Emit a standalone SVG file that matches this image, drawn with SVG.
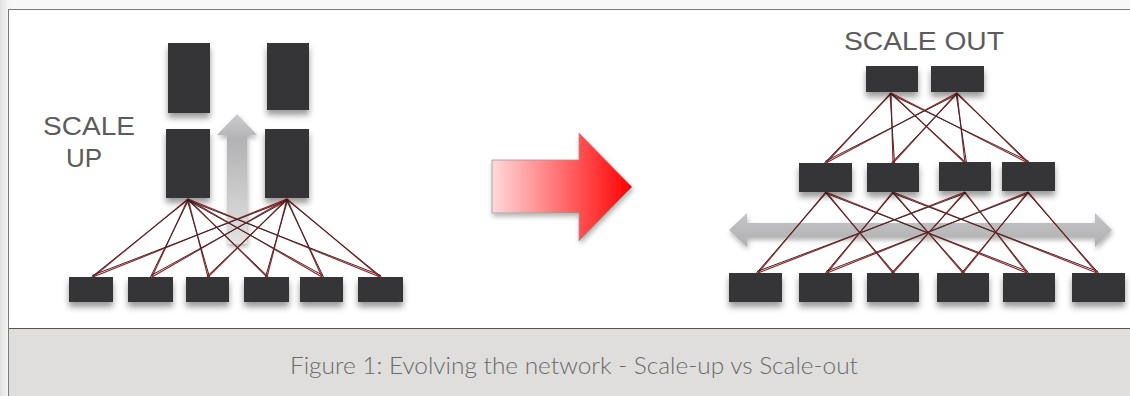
<svg xmlns="http://www.w3.org/2000/svg" width="1130" height="396" viewBox="0 0 1130 396">
  <defs>
    <style>
      .box { fill: #343437; }
      .lbl { font-family: "Liberation Sans", Arial, sans-serif; fill: #5c5c5c; }
      .cap { font-family: Lato, "Liberation Sans", sans-serif; font-weight: 300; fill: #6a6a6a; font-size: 23.5px; }
      .r { stroke: #a81d20; stroke-width: 1.2; fill: none; }
      .k { stroke: #2f2f31; stroke-width: 1; fill: none; }
    </style>
    <filter id="sh" x="-30%" y="-30%" width="160%" height="180%">
      <feDropShadow dx="0" dy="5" stdDeviation="3" flood-color="#000" flood-opacity="0.4"/>
    </filter>
    <filter id="sh2" x="-20%" y="-30%" width="140%" height="170%">
      <feDropShadow dx="1" dy="3" stdDeviation="2.5" flood-color="#000" flood-opacity="0.3"/>
    </filter>
    <linearGradient id="redg" x1="492" y1="0" x2="632" y2="0" gradientUnits="userSpaceOnUse">
      <stop offset="0" stop-color="#ffd9dc"/>
      <stop offset="1" stop-color="#ff0000"/>
    </linearGradient>
    <linearGradient id="upg" x1="0" y1="114" x2="0" y2="244" gradientUnits="userSpaceOnUse">
      <stop offset="0" stop-color="#cdcdcf"/>
      <stop offset="0.2" stop-color="#b2b2b4"/>
      <stop offset="1" stop-color="#e2e2e2"/>
    </linearGradient>
    <linearGradient id="hg" x1="0" y1="213" x2="0" y2="247" gradientUnits="userSpaceOnUse">
      <stop offset="0" stop-color="#c4c4c6"/>
      <stop offset="1" stop-color="#b0b0b3"/>
    </linearGradient>
    <linearGradient id="bgl" x1="0" y1="0" x2="9" y2="0" gradientUnits="userSpaceOnUse">
      <stop offset="0" stop-color="#e2e2e2"/>
      <stop offset="1" stop-color="#f6f6f6"/>
    </linearGradient>
  </defs>

  <!-- frame -->
  <rect x="0" y="0" width="1130" height="396" fill="#f7f7f7"/>
  <rect x="0" y="0" width="9" height="396" fill="url(#bgl)"/>
  <rect x="8.5" y="9.5" width="1130" height="400" fill="#ffffff" stroke="#7a7a7a" stroke-width="1"/>
  <rect x="9" y="328" width="1121" height="68" fill="#dfdedc"/>
  <line x1="9" y1="328.5" x2="1130" y2="328.5" stroke="#555" stroke-width="1"/>
  <text class="cap" x="574" y="374" text-anchor="middle" textLength="568" lengthAdjust="spacingAndGlyphs">Figure 1: Evolving the network - Scale-up vs Scale-out</text>

  <!-- background arrows -->
  <g id="up-arrow" filter="url(#sh2)">
    <polygon points="237,114 257,135 247,135 247,244 227,244 227,135 217,135" fill="url(#upg)"/>
  </g>
  <g id="out-arrow" filter="url(#sh2)">
    <polygon points="729,230 747,213 747,223 1095,223 1095,213 1112,230 1095,247 1095,237 747,237 747,247" fill="url(#hg)"/>
  </g>
  <g id="evolve-arrow" filter="url(#sh2)">
    <polygon points="492,160 579,160 579,133 632,187 579,241 579,213 492,213" fill="url(#redg)" stroke="#9a9a9a" stroke-width="0.8"/>
  </g>

  <!-- connectors -->
  <g id="connectors">
    <!-- scale up: 2 x 6 -->
    <g>
      <line class="r" x1="188" y1="199" x2="93" y2="277"/><line class="k" x1="189" y1="199" x2="91.5" y2="277"/>
      <line class="r" x1="188" y1="199" x2="152" y2="277"/><line class="k" x1="189" y1="199" x2="150.5" y2="277"/>
      <line class="r" x1="188" y1="199" x2="208" y2="277"/><line class="k" x1="187" y1="199" x2="209.5" y2="277"/>
      <line class="r" x1="188" y1="199" x2="267" y2="277"/><line class="k" x1="187" y1="199" x2="268.5" y2="277"/>
      <line class="r" x1="188" y1="199" x2="322" y2="277"/><line class="k" x1="187" y1="200" x2="323" y2="275.5"/>
      <line class="r" x1="188" y1="199" x2="380" y2="277"/><line class="k" x1="187" y1="200" x2="381" y2="275.5"/>
      <line class="r" x1="287" y1="199" x2="93" y2="277"/><line class="k" x1="288" y1="200" x2="92" y2="275.5"/>
      <line class="r" x1="287" y1="199" x2="152" y2="277"/><line class="k" x1="288" y1="200" x2="151" y2="275.5"/>
      <line class="r" x1="287" y1="199" x2="208" y2="277"/><line class="k" x1="288" y1="199" x2="206.5" y2="277"/>
      <line class="r" x1="287" y1="199" x2="267" y2="277"/><line class="k" x1="288" y1="199" x2="265.5" y2="277"/>
      <line class="r" x1="287" y1="199" x2="322" y2="277"/><line class="k" x1="286" y1="199" x2="323.5" y2="277"/>
      <line class="r" x1="287" y1="199" x2="380" y2="277"/><line class="k" x1="286" y1="199" x2="381.5" y2="277"/>
    </g>
    <!-- scale out: top to middle -->
    <g>
      <line class="r" x1="891" y1="93" x2="826" y2="163"/><line class="k" x1="892" y1="93" x2="824.5" y2="163"/>
      <line class="r" x1="891" y1="93" x2="893" y2="163"/><line class="k" x1="890" y1="93" x2="894.5" y2="163"/>
      <line class="r" x1="891" y1="93" x2="965" y2="163"/><line class="k" x1="890" y1="93" x2="966.5" y2="163"/>
      <line class="r" x1="891" y1="93" x2="1028" y2="163"/><line class="k" x1="890" y1="94" x2="1029" y2="161.5"/>
      <line class="r" x1="957" y1="93" x2="826" y2="163"/><line class="k" x1="958" y1="94" x2="825" y2="161.5"/>
      <line class="r" x1="957" y1="93" x2="893" y2="163"/><line class="k" x1="958" y1="93" x2="891.5" y2="163"/>
      <line class="r" x1="957" y1="93" x2="965" y2="163"/><line class="k" x1="956" y1="93" x2="966.5" y2="163"/>
      <line class="r" x1="957" y1="93" x2="1028" y2="163"/><line class="k" x1="956" y1="93" x2="1029.5" y2="163"/>
    </g>
    <!-- scale out: middle to bottom -->
    <g>
      <line class="r" x1="826" y1="192" x2="758" y2="273"/><line class="k" x1="827" y1="192" x2="756.5" y2="273"/>
      <line class="r" x1="826" y1="192" x2="893" y2="273"/><line class="k" x1="825" y1="192" x2="894.5" y2="273"/>
      <line class="r" x1="826" y1="192" x2="1027" y2="273"/><line class="k" x1="825" y1="193" x2="1028" y2="271.5"/>
      <line class="r" x1="893" y1="192" x2="827" y2="273"/><line class="k" x1="894" y1="192" x2="825.5" y2="273"/>
      <line class="r" x1="893" y1="192" x2="963" y2="273"/><line class="k" x1="892" y1="192" x2="964.5" y2="273"/>
      <line class="r" x1="893" y1="192" x2="1097" y2="273"/><line class="k" x1="892" y1="193" x2="1098" y2="271.5"/>
      <line class="r" x1="965" y1="192" x2="758" y2="273"/><line class="k" x1="966" y1="193" x2="757" y2="271.5"/>
      <line class="r" x1="965" y1="192" x2="893" y2="273"/><line class="k" x1="966" y1="192" x2="891.5" y2="273"/>
      <line class="r" x1="965" y1="192" x2="1027" y2="273"/><line class="k" x1="964" y1="192" x2="1028.5" y2="273"/>
      <line class="r" x1="1028" y1="192" x2="827" y2="273"/><line class="k" x1="1029" y1="193" x2="826" y2="271.5"/>
      <line class="r" x1="1028" y1="192" x2="963" y2="273"/><line class="k" x1="1029" y1="192" x2="961.5" y2="273"/>
      <line class="r" x1="1028" y1="192" x2="1097" y2="273"/><line class="k" x1="1027" y1="192" x2="1098.5" y2="273"/>
    </g>
  </g>

  <!-- scale up nodes -->
  <g filter="url(#sh)">
    <g id="up-top-1"><rect class="box" x="168" y="43" width="42" height="70"/></g>
    <g id="up-top-2"><rect class="box" x="267" y="43" width="42" height="67"/></g>
    <g id="up-mid-1"><rect class="box" x="166" y="129" width="44" height="69"/></g>
    <g id="up-mid-2"><rect class="box" x="265" y="129" width="44" height="69"/></g>
    <g id="up-leaf-1"><rect class="box" x="69" y="277" width="44" height="25"/></g>
    <g id="up-leaf-2"><rect class="box" x="128" y="277" width="45" height="25"/></g>
    <g id="up-leaf-3"><rect class="box" x="186" y="277" width="43" height="25"/></g>
    <g id="up-leaf-4"><rect class="box" x="244" y="277" width="45" height="25"/></g>
    <g id="up-leaf-5"><rect class="box" x="300" y="277" width="43" height="25"/></g>
    <g id="up-leaf-6"><rect class="box" x="358" y="277" width="45" height="25"/></g>
  </g>

  <!-- scale out nodes -->
  <g filter="url(#sh)">
    <g id="out-top-1"><rect class="box" x="866" y="66" width="52" height="26"/></g>
    <g id="out-top-2"><rect class="box" x="931" y="66" width="53" height="26"/></g>
    <g id="out-mid-1"><rect class="box" x="799" y="163" width="53" height="29"/></g>
    <g id="out-mid-2"><rect class="box" x="867" y="163" width="52" height="29"/></g>
    <g id="out-mid-3"><rect class="box" x="939" y="162" width="52" height="29"/></g>
    <g id="out-mid-4"><rect class="box" x="1002" y="162" width="53" height="29"/></g>
    <g id="out-leaf-1"><rect class="box" x="729" y="273" width="53" height="29"/></g>
    <g id="out-leaf-2"><rect class="box" x="799" y="273" width="53" height="29"/></g>
    <g id="out-leaf-3"><rect class="box" x="867" y="273" width="52" height="29"/></g>
    <g id="out-leaf-4"><rect class="box" x="937" y="273" width="52" height="29"/></g>
    <g id="out-leaf-5"><rect class="box" x="1003" y="273" width="52" height="29"/></g>
    <g id="out-leaf-6"><rect class="box" x="1072" y="273" width="53" height="29"/></g>
  </g>

  <!-- labels -->
  <g id="label-scale-up">
    <text class="lbl" x="43" y="135" font-size="26" textLength="92" lengthAdjust="spacingAndGlyphs">SCALE</text>
    <text class="lbl" x="66" y="167" font-size="26">UP</text>
  </g>
  <g id="label-scale-out">
    <text class="lbl" x="844" y="50" font-size="25" textLength="160" lengthAdjust="spacingAndGlyphs">SCALE OUT</text>
  </g>
</svg>
